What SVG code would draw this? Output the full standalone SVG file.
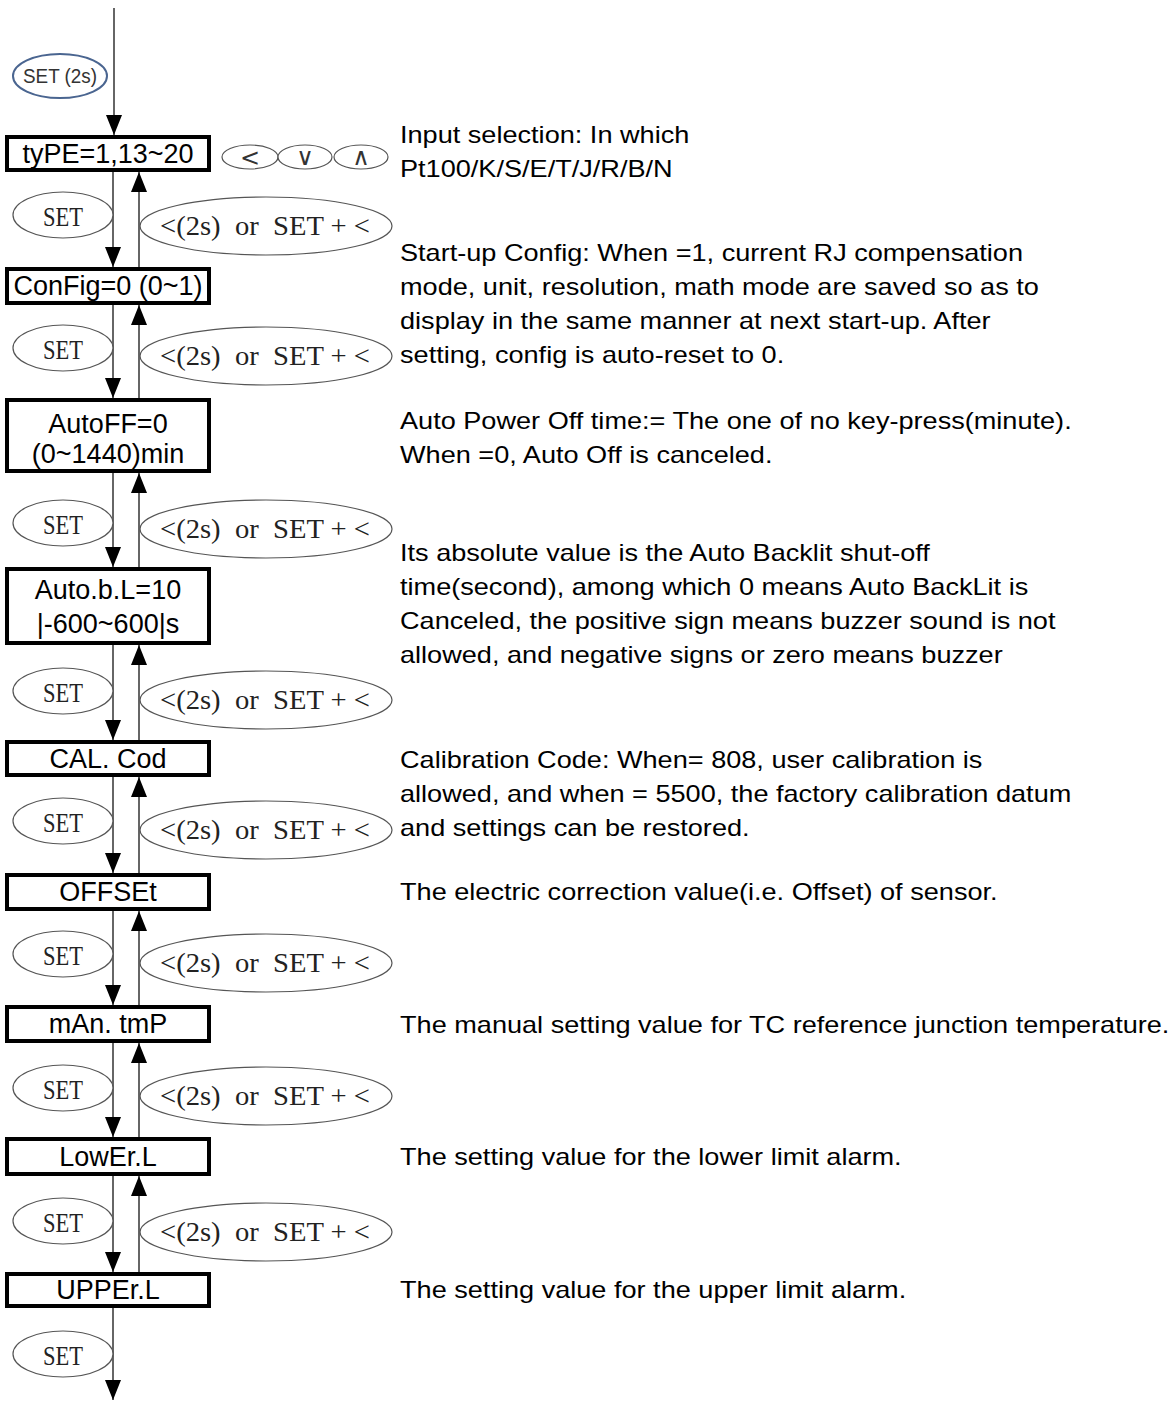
<svg xmlns="http://www.w3.org/2000/svg" width="1176" height="1401" viewBox="0 0 1176 1401">
<style>
.box{fill:#fff;stroke:#000;stroke-width:4}
.bt{font-family:"Liberation Sans",Arial,sans-serif;font-size:27px;fill:#000;text-anchor:middle}
.se{fill:#fff;stroke:#555;stroke-width:1.2}
.st{font-family:"Liberation Serif","Times New Roman",serif;font-size:28px;fill:#222;text-anchor:middle}
.bk{font-family:"Liberation Serif","Times New Roman",serif;font-size:27px;fill:#222;text-anchor:middle;white-space:pre}
.ln{stroke:#333;stroke-width:1.5;fill:none}
.desc{font-family:"Liberation Sans",Arial,sans-serif;font-size:24px;fill:#000}
.key{font-family:"DejaVu Sans","Liberation Serif",serif;font-size:24px;fill:#333;text-anchor:middle}
</style>
<defs>
<marker id="ah" viewBox="0 0 20 16" refX="20" refY="8" markerWidth="20" markerHeight="16" markerUnits="userSpaceOnUse" orient="auto">
<path d="M0,0 L20,8 L0,16 Z" fill="#000"/>
</marker>
</defs>
<rect width="1176" height="1401" fill="#fff"/>

<g id="start">
<ellipse cx="60" cy="76" rx="47" ry="22" fill="#fff" stroke="#4a6590" stroke-width="2"/>
<text x="60" y="83" font-family="Liberation Sans,Arial,sans-serif" font-size="20" fill="#333" text-anchor="middle" textLength="74" lengthAdjust="spacingAndGlyphs">SET (2s)</text>
</g>

<g id="connectors">
<line class="ln" x1="114" y1="8" x2="114" y2="135" stroke="#000" stroke-width="2" marker-end="url(#ah)"/>
<line class="ln" x1="113" y1="172" x2="113" y2="267" marker-end="url(#ah)"/>
<line class="ln" x1="139" y1="267" x2="139" y2="172" marker-end="url(#ah)"/>
<line class="ln" x1="113" y1="305" x2="113" y2="398" marker-end="url(#ah)"/>
<line class="ln" x1="139" y1="398" x2="139" y2="305" marker-end="url(#ah)"/>
<line class="ln" x1="113" y1="473" x2="113" y2="567" marker-end="url(#ah)"/>
<line class="ln" x1="139" y1="567" x2="139" y2="473" marker-end="url(#ah)"/>
<line class="ln" x1="113" y1="645" x2="113" y2="740" marker-end="url(#ah)"/>
<line class="ln" x1="139" y1="740" x2="139" y2="645" marker-end="url(#ah)"/>
<line class="ln" x1="113" y1="777" x2="113" y2="873" marker-end="url(#ah)"/>
<line class="ln" x1="139" y1="873" x2="139" y2="777" marker-end="url(#ah)"/>
<line class="ln" x1="113" y1="911" x2="113" y2="1005" marker-end="url(#ah)"/>
<line class="ln" x1="139" y1="1005" x2="139" y2="911" marker-end="url(#ah)"/>
<line class="ln" x1="113" y1="1043" x2="113" y2="1137" marker-end="url(#ah)"/>
<line class="ln" x1="139" y1="1137" x2="139" y2="1043" marker-end="url(#ah)"/>
<line class="ln" x1="113" y1="1176" x2="113" y2="1272" marker-end="url(#ah)"/>
<line class="ln" x1="139" y1="1272" x2="139" y2="1176" marker-end="url(#ah)"/>
<line class="ln" x1="113" y1="1308" x2="113" y2="1400" marker-end="url(#ah)"/>
</g>

<g id="labels-set">
<g><ellipse class="se" cx="63" cy="215" rx="50" ry="23"/><text class="st" x="63" y="226" textLength="40" lengthAdjust="spacingAndGlyphs">SET</text></g>
<g><ellipse class="se" cx="63" cy="348" rx="50" ry="23"/><text class="st" x="63" y="359" textLength="40" lengthAdjust="spacingAndGlyphs">SET</text></g>
<g><ellipse class="se" cx="63" cy="523" rx="50" ry="23"/><text class="st" x="63" y="534" textLength="40" lengthAdjust="spacingAndGlyphs">SET</text></g>
<g><ellipse class="se" cx="63" cy="691" rx="50" ry="23"/><text class="st" x="63" y="702" textLength="40" lengthAdjust="spacingAndGlyphs">SET</text></g>
<g><ellipse class="se" cx="63" cy="821" rx="50" ry="23"/><text class="st" x="63" y="832" textLength="40" lengthAdjust="spacingAndGlyphs">SET</text></g>
<g><ellipse class="se" cx="63" cy="954" rx="50" ry="23"/><text class="st" x="63" y="965" textLength="40" lengthAdjust="spacingAndGlyphs">SET</text></g>
<g><ellipse class="se" cx="63" cy="1088" rx="50" ry="23"/><text class="st" x="63" y="1099" textLength="40" lengthAdjust="spacingAndGlyphs">SET</text></g>
<g><ellipse class="se" cx="63" cy="1221" rx="50" ry="23"/><text class="st" x="63" y="1232" textLength="40" lengthAdjust="spacingAndGlyphs">SET</text></g>
<g><ellipse class="se" cx="63" cy="1354" rx="50" ry="23"/><text class="st" x="63" y="1365" textLength="40" lengthAdjust="spacingAndGlyphs">SET</text></g>
</g>

<g id="labels-back">
<g><ellipse class="se" cx="266" cy="226" rx="126" ry="29"/><text class="bk" x="265" y="235" xml:space="preserve" textLength="210" lengthAdjust="spacingAndGlyphs">&lt;(2s)  or  SET + &lt;</text></g>
<g><ellipse class="se" cx="266" cy="356" rx="126" ry="29"/><text class="bk" x="265" y="365" xml:space="preserve" textLength="210" lengthAdjust="spacingAndGlyphs">&lt;(2s)  or  SET + &lt;</text></g>
<g><ellipse class="se" cx="266" cy="529" rx="126" ry="29"/><text class="bk" x="265" y="538" xml:space="preserve" textLength="210" lengthAdjust="spacingAndGlyphs">&lt;(2s)  or  SET + &lt;</text></g>
<g><ellipse class="se" cx="266" cy="700" rx="126" ry="29"/><text class="bk" x="265" y="709" xml:space="preserve" textLength="210" lengthAdjust="spacingAndGlyphs">&lt;(2s)  or  SET + &lt;</text></g>
<g><ellipse class="se" cx="266" cy="830" rx="126" ry="29"/><text class="bk" x="265" y="839" xml:space="preserve" textLength="210" lengthAdjust="spacingAndGlyphs">&lt;(2s)  or  SET + &lt;</text></g>
<g><ellipse class="se" cx="266" cy="963" rx="126" ry="29"/><text class="bk" x="265" y="972" xml:space="preserve" textLength="210" lengthAdjust="spacingAndGlyphs">&lt;(2s)  or  SET + &lt;</text></g>
<g><ellipse class="se" cx="266" cy="1096" rx="126" ry="29"/><text class="bk" x="265" y="1105" xml:space="preserve" textLength="210" lengthAdjust="spacingAndGlyphs">&lt;(2s)  or  SET + &lt;</text></g>
<g><ellipse class="se" cx="266" cy="1232" rx="126" ry="29"/><text class="bk" x="265" y="1241" xml:space="preserve" textLength="210" lengthAdjust="spacingAndGlyphs">&lt;(2s)  or  SET + &lt;</text></g>
</g>

<g id="keys">
<ellipse class="se" cx="250" cy="157" rx="28" ry="12"/><text class="key" x="250" y="166">&lt;</text>
<ellipse class="se" cx="305" cy="157" rx="27" ry="12"/><text class="key" x="305" y="165">∨</text>
<ellipse class="se" cx="361" cy="157" rx="27" ry="12"/><text class="key" x="361" y="165">∧</text>
</g>

<g id="n-type"><rect class="box" x="7" y="137" width="202" height="33"/><text class="bt" x="108" y="163">tyPE=1,13~20</text></g>
<g id="n-config"><rect class="box" x="7" y="269" width="202" height="34"/><text class="bt" x="108" y="295">ConFig=0 (0~1)</text></g>
<g id="n-autoff"><rect class="box" x="7" y="400" width="202" height="71"/><text class="bt" x="108" y="433">AutoFF=0</text><text class="bt" x="108" y="463">(0~1440)min</text></g>
<g id="n-autobl"><rect class="box" x="7" y="569" width="202" height="74"/><text class="bt" x="108" y="599">Auto.b.L=10</text><text class="bt" x="108" y="633">|-600~600|s</text></g>
<g id="n-cal"><rect class="box" x="7" y="742" width="202" height="33"/><text class="bt" x="108" y="768">CAL. Cod</text></g>
<g id="n-offset"><rect class="box" x="7" y="875" width="202" height="34"/><text class="bt" x="108" y="901">OFFSEt</text></g>
<g id="n-mantmp"><rect class="box" x="7" y="1007" width="202" height="34"/><text class="bt" x="108" y="1033">mAn. tmP</text></g>
<g id="n-lower"><rect class="box" x="7" y="1139" width="202" height="35"/><text class="bt" x="108" y="1166">LowEr.L</text></g>
<g id="n-upper"><rect class="box" x="7" y="1274" width="202" height="32"/><text class="bt" x="108" y="1299">UPPEr.L</text></g>

<g id="descriptions" transform="translate(400 0) scale(1.13 1)">
<text class="desc" x="0" y="143">Input selection: In which</text>
<text class="desc" x="0" y="177">Pt100/K/S/E/T/J/R/B/N</text>
<text class="desc" x="0" y="261">Start-up Config: When =1, current RJ compensation</text>
<text class="desc" x="0" y="295">mode, unit, resolution, math mode are saved so as to</text>
<text class="desc" x="0" y="329">display in the same manner at next start-up. After</text>
<text class="desc" x="0" y="363">setting, config is auto-reset to 0.</text>
<text class="desc" x="0" y="429">Auto Power Off time:= The one of no key-press(minute).</text>
<text class="desc" x="0" y="463">When =0, Auto Off is canceled.</text>
<text class="desc" x="0" y="561">Its absolute value is the Auto Backlit shut-off</text>
<text class="desc" x="0" y="595">time(second), among which 0 means Auto BackLit is</text>
<text class="desc" x="0" y="629">Canceled, the positive sign means buzzer sound is not</text>
<text class="desc" x="0" y="663">allowed, and negative signs or zero means buzzer</text>
<text class="desc" x="0" y="768">Calibration Code: When= 808, user calibration is</text>
<text class="desc" x="0" y="802">allowed, and when = 5500, the factory calibration datum</text>
<text class="desc" x="0" y="836">and settings can be restored.</text>
<text class="desc" x="0" y="900">The electric correction value(i.e. Offset) of sensor.</text>
<text class="desc" x="0" y="1033">The manual setting value for TC reference junction temperature.</text>
<text class="desc" x="0" y="1165">The setting value for the lower limit alarm.</text>
<text class="desc" x="0" y="1298">The setting value for the upper limit alarm.</text>
</g>
</svg>
